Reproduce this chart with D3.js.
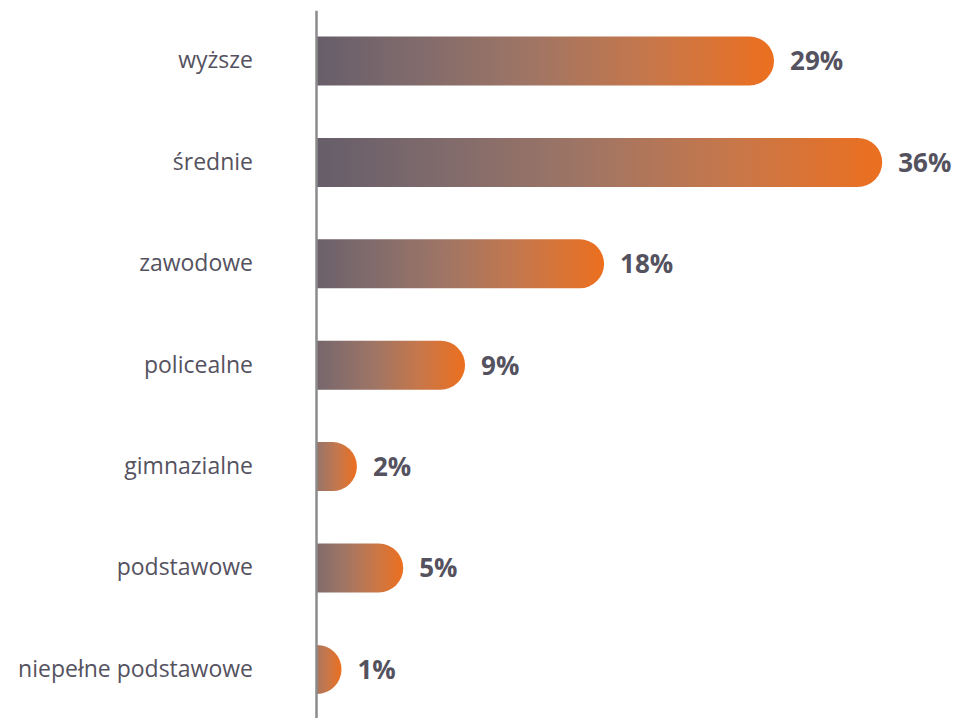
<!DOCTYPE html>
<html>
<head>
<meta charset="utf-8">
<script src="https://cdn.jsdelivr.net/npm/d3@7"></script>
<style>
  html, body { margin: 0; padding: 0; background: #ffffff; }
  svg { display: block; }
</style>
</head>
<body>
<svg id="chart" width="964" height="718"></svg>
<script>
// ---- data ----
const categories = ["wyższe", "średnie", "zawodowe", "policealne", "gimnazialne", "podstawowe", "niepełne podstawowe"];
const values = [29, 36, 18, 9, 2, 5, 1];
const valueLabels = ["29%", "36%", "18%", "9%", "2%", "5%", "1%"];

// ---- layout ----
const W = 964, H = 718;
const x0 = 316;
const svg = d3.select("#chart");

const y = d3.scaleBand()
  .domain(categories)
  .range([10.3, 720.1])
  .paddingInner(0.517)
  .paddingOuter(0.2585);

const x = d3.scaleLinear()
  .domain([0, 36])
  .range([x0 + 10, x0 + 10 + 36 * 15.45]);

const defs = svg.append("defs");
const stops = [
  [0, "#5f5a69"], [0.25, "#7e6a6c"], [0.5, "#9f7565"], [0.75, "#c7774a"], [1, "#ec6f1f"]
];

const rows = categories.map((c, i) => ({ c, v: values[i], label: valueLabels[i], i }));

rows.forEach(d => {
  const g = defs.append("linearGradient")
    .attr("id", "grad" + d.i)
    .attr("gradientUnits", "userSpaceOnUse")
    .attr("x1", x0 - 32).attr("y1", 0)
    .attr("x2", x(d.v)).attr("y2", 0);
  stops.forEach(s => g.append("stop").attr("offset", s[0]).attr("stop-color", s[1]));
});

function barPath(d) {
  const h = y.bandwidth();
  const top = y(d.c);
  const end = x(d.v);
  const r = h / 2;
  const start = x0 + 1;
  const mid = Math.max(start, end - r);
  return `M${start},${top} H${mid} A${r},${r} 0 0 1 ${mid},${top + h} H${start} Z`;
}

svg.append("g").selectAll("path")
  .data(rows)
  .join("path")
  .attr("d", barPath)
  .attr("fill", d => `url(#grad${d.i})`);

svg.append("g").selectAll("text")
  .data(rows)
  .join("text")
  .attr("x", d => x(d.v) + 16)
  .attr("y", d => y(d.c) + y.bandwidth() / 2)
  .attr("dy", "0.36em")
  .attr("font-family", "'Open Sans', sans-serif")
  .attr("font-weight", 700)
  .attr("font-size", 26)
  .attr("fill", "#55525f")
  .text(d => d.label);

// axis with category labels
const yAxis = d3.axisLeft(y).tickSize(0).tickSizeOuter(0).tickPadding(63);
const ag = svg.append("g")
  .attr("transform", `translate(${x0},0)`)
  .call(yAxis);
ag.select(".domain").attr("stroke", "#8b8b8b").attr("stroke-width", 2.5);
ag.selectAll(".tick text")
  .attr("font-family", "'Open Sans', sans-serif")
  .attr("font-size", 23)
  .attr("fill", "#55525f");
</script>
</body>
</html>
